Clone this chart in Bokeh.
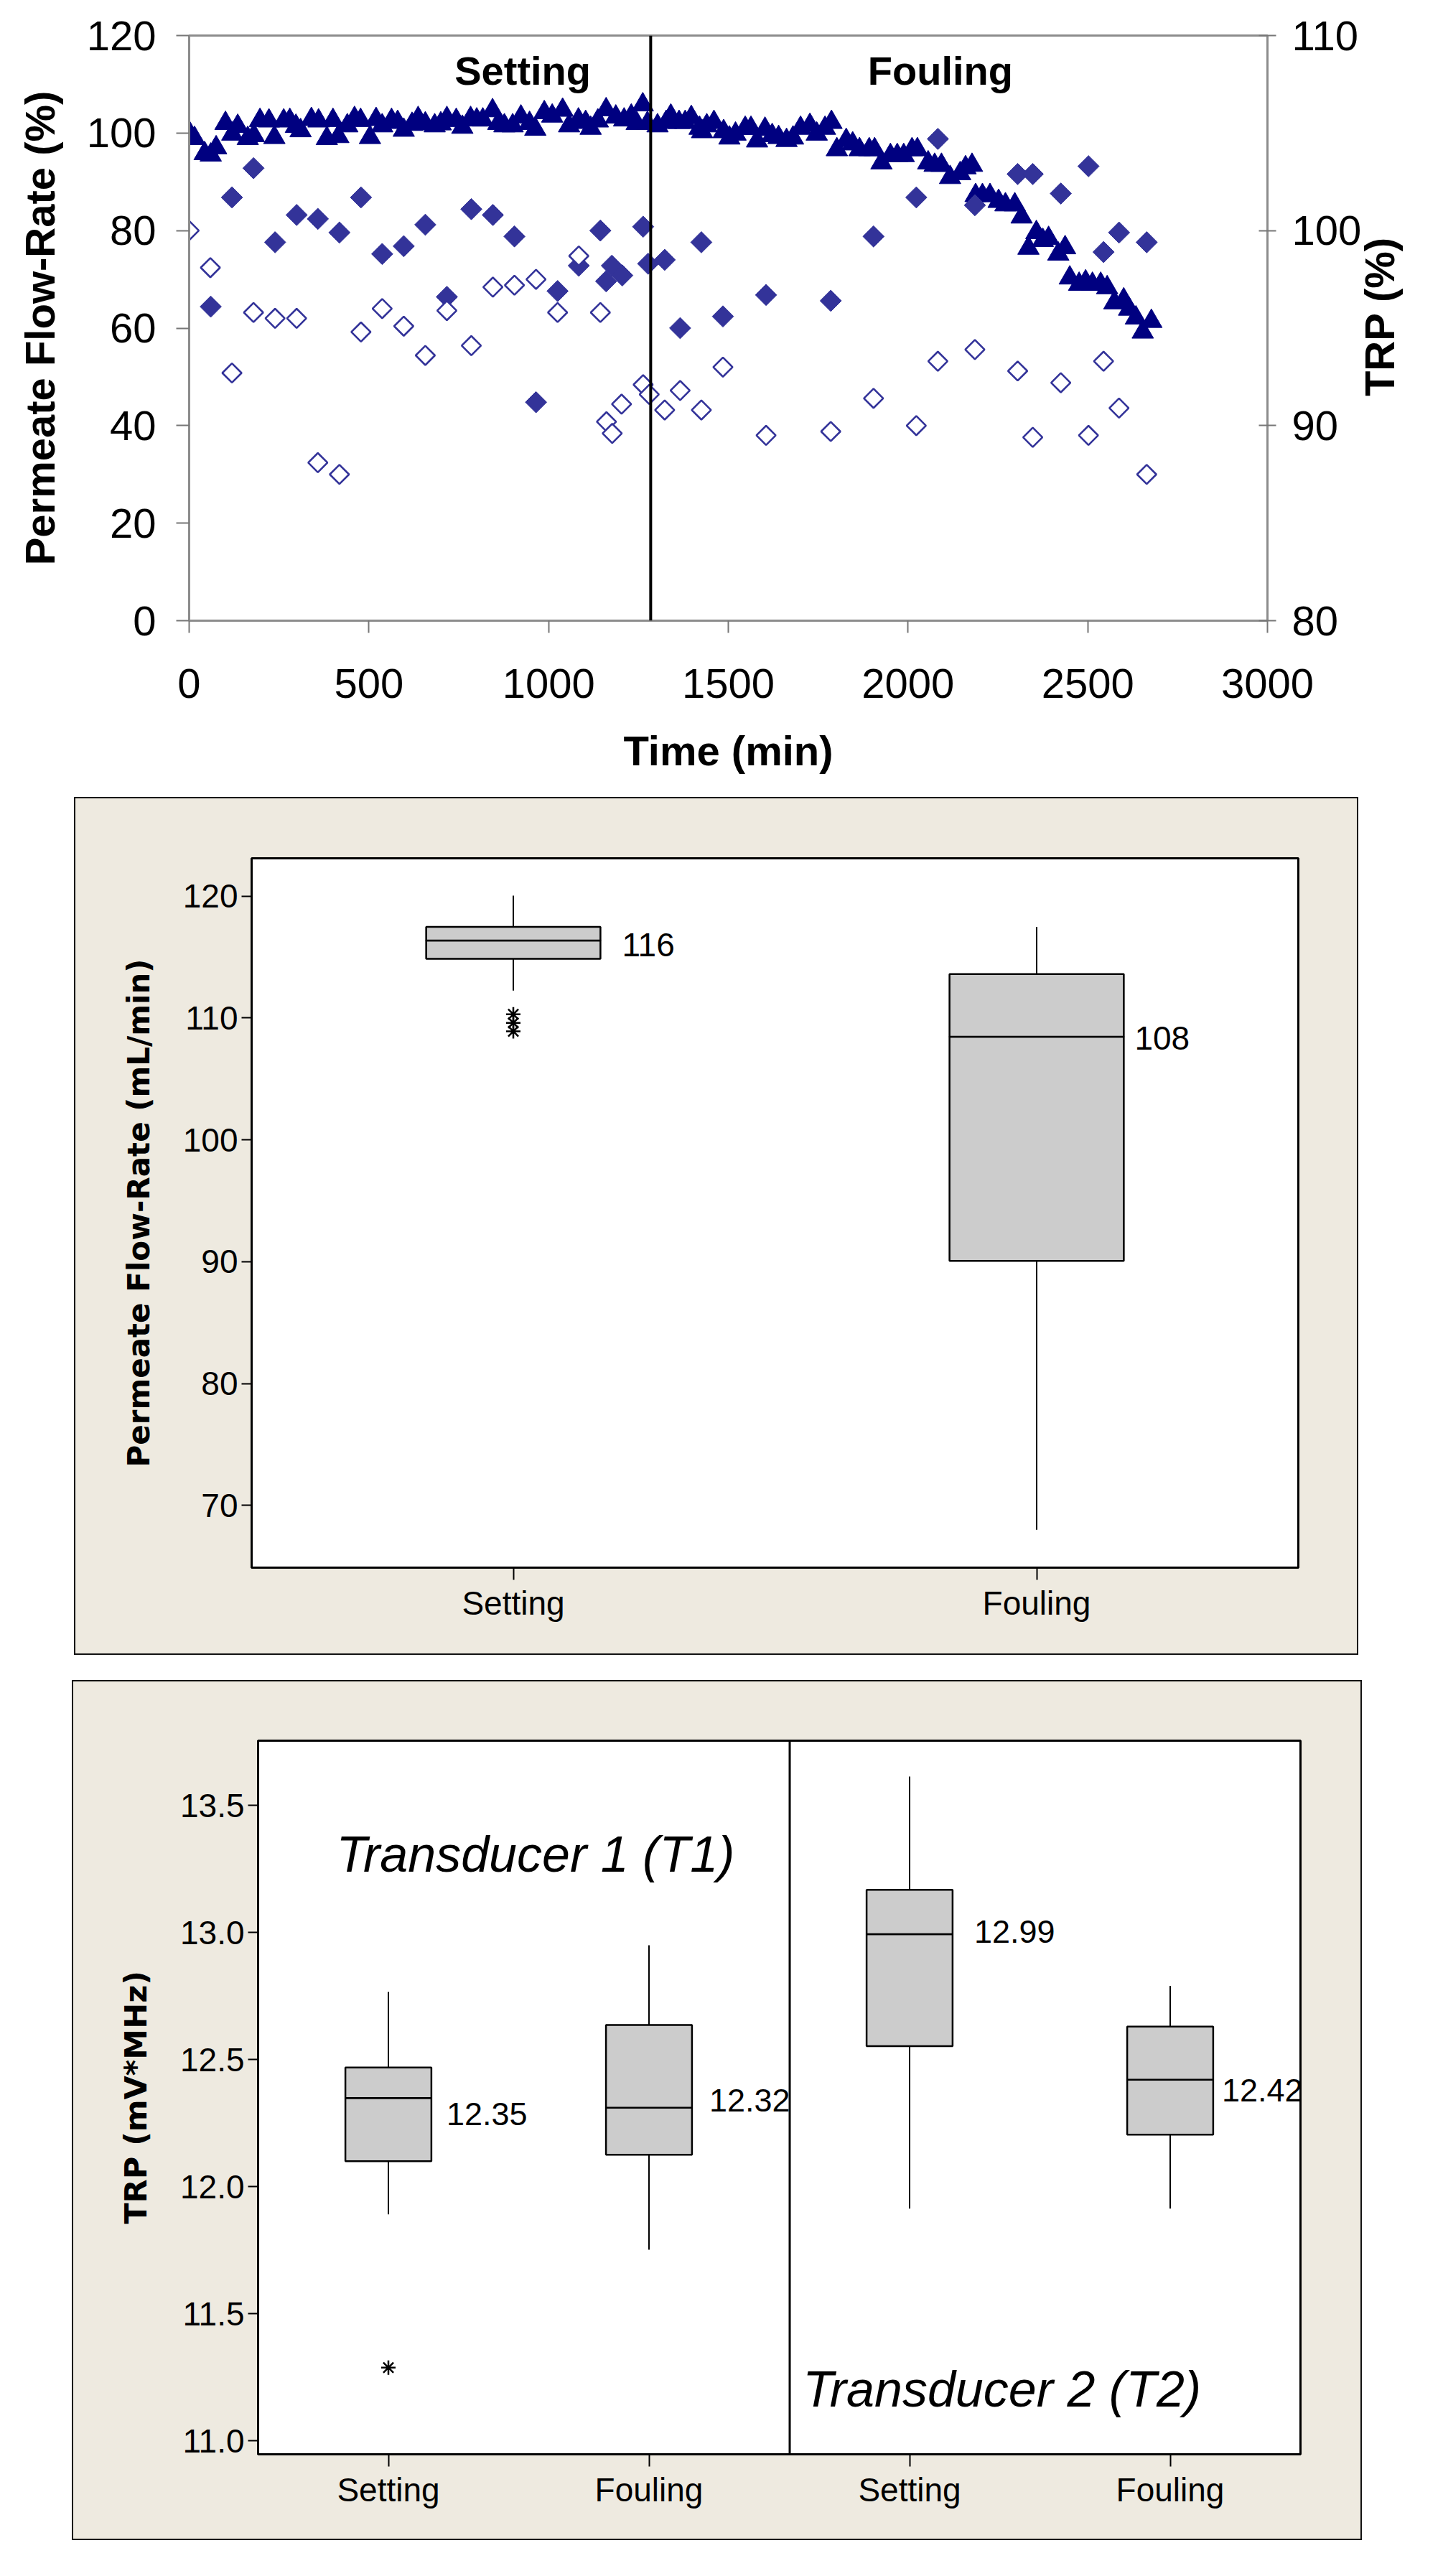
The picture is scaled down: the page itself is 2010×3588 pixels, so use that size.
import math
from bokeh.plotting import figure
from bokeh.models import Range1d, LinearAxis, FixedTicker, Span, FactorRange, NumeralTickFormatter
from bokeh.core.properties import value
from bokeh.embed import file_html
from bokeh.resources import INLINE

# ---------------- data: time series (top chart) ----------------
flow_time = [0, 15, 43, 60, 75, 101, 120, 135, 163, 180, 197, 222, 237, 263, 280, 297, 310, 340, 360, 383,
             400, 415, 440, 460, 477, 503, 520, 537, 563, 580, 597, 620, 637, 657, 683, 700, 717, 743, 760, 783,
             800, 817, 844, 860, 877, 900, 923, 947, 963, 988, 1010, 1039, 1057, 1083, 1103, 1117, 1137, 1160,
             1187, 1210, 1230, 1245, 1262, 1275, 1303, 1327, 1340, 1363, 1380, 1397, 1420, 1427, 1440, 1460,
             1487, 1503, 1520, 1547, 1563, 1580, 1602, 1622, 1640, 1662, 1680, 1701, 1727, 1746, 1769, 1787,
             1802, 1828, 1846, 1865, 1892, 1907, 1926, 1951, 1970, 1988, 2011, 2026, 2056, 2074, 2093, 2117,
             2145, 2160, 2178, 2188, 2207, 2228, 2252, 2271, 2297, 2316, 2335, 2357, 2375, 2391, 2418, 2437,
             2450, 2476, 2494, 2513, 2536, 2554, 2574, 2600, 2615, 2634, 2653, 2677]
flow_pct = [100.1, 98.9, 95.8, 95.5, 97.0, 102.0, 99.8, 101.4, 98.9, 99.5, 102.6, 102.5, 99.1, 102.5, 102.6,
            101.4, 100.5, 102.8, 102.5, 98.9, 102.6, 99.3, 101.5, 103.0, 102.6, 99.1, 102.8, 101.5, 102.6,
            102.2, 100.6, 101.8, 103.0, 101.9, 101.5, 101.9, 103.0, 102.6, 101.2, 103.0, 102.7, 102.7, 104.6,
            102.0, 101.5, 101.5, 103.3, 102.0, 100.8, 104.2, 103.5, 104.7, 101.5, 102.7, 102.2, 101.0, 102.5,
            104.8, 103.3, 102.7, 103.5, 102.0, 105.8, 102.0, 101.5, 102.2, 103.5, 102.2, 102.2, 103.2, 101.0,
            100.3, 101.5, 102.2, 100.3, 99.0, 99.8, 101.0, 101.0, 98.4, 100.8, 99.5, 99.1, 98.5, 99.0, 101.0,
            101.6, 99.8, 101.0, 102.2, 96.6, 98.5, 97.8, 96.6, 96.6, 96.6, 93.9, 95.4, 95.4, 95.4, 96.6, 96.6,
            93.9, 93.4, 93.4, 90.9, 91.7, 92.9, 93.4, 87.2, 87.2, 87.2, 86.0, 85.3, 85.3, 82.8, 76.4, 79.6,
            78.0, 78.4, 75.2, 76.5, 70.3, 69.0, 69.5, 69.0, 69.0, 68.3, 65.2, 65.8, 63.9, 62.1, 59.2, 61.4]

t1_time = [60, 119, 179, 239, 299, 358, 418, 478, 537, 597, 657, 717, 785, 845, 905, 965, 1025, 1084, 1144,
           1160, 1176, 1205, 1263, 1277, 1323, 1366, 1425, 1485, 1605, 1785, 1904, 2023, 2083, 2186, 2305,
           2347, 2425, 2502, 2544, 2587, 2664]
t1_trp = [96.1, 101.7, 103.2, 99.4, 100.8, 100.6, 99.9, 101.7, 98.8, 99.2, 100.3, 96.6, 101.1, 100.8, 99.7,
          91.2, 96.9, 98.2, 100.0, 97.4, 98.2, 97.7, 100.2, 98.3, 98.5, 95.0, 99.4, 95.6, 96.7, 96.4, 99.7,
          101.7, 104.7, 101.3, 102.9, 102.9, 101.9, 103.3, 98.9, 99.9, 99.4]

t2_time = [0, 59, 119, 179, 239, 299, 358, 418, 478, 537, 597, 657, 717, 785, 845, 905, 965, 1025, 1084, 1144,
           1161, 1177, 1203, 1263, 1280, 1323, 1366, 1425, 1485, 1605, 1785, 1904, 2023, 2083, 2186, 2305,
           2347, 2425, 2502, 2544, 2587, 2664]
t2_trp = [100.0, 98.1, 92.7, 95.8, 95.5, 95.5, 88.1, 87.5, 94.8, 96.0, 95.1, 93.6, 95.9, 94.1, 97.1, 97.2,
          97.5, 95.8, 98.7, 95.8, 90.2, 89.6, 91.1, 92.1, 91.6, 90.8, 91.8, 90.8, 93.0, 89.5, 89.7, 91.4, 90.0,
          93.3, 93.9, 92.8, 89.4, 92.2, 89.5, 93.3, 90.9, 87.5]

phase_labels = ["Setting", "Fouling"]
phase_label_time = [928, 2090]
phase_label_level = [112.8, 112.8]
phase_split_time = 1284

time_ticks = [0, 500, 1000, 1500, 2000, 2500, 3000]
flow_ticks = [0, 20, 40, 60, 80, 100, 120]
trp_pct_ticks = [80, 90, 100, 110]
trp_title_start = 91.5  # where the bottom-to-top right-axis title begins

# ---------------- data: flow-rate box plot ----------------
flow_cats = ["Setting", "Fouling"]
flow_q1 = [114.86, 90.07]
flow_med = [116.35, 108.46]
flow_q3 = [117.47, 113.60]
flow_lo = [112.24, 68.0]
flow_hi = [120.04, 117.47]
flow_med_text = ["116", "108"]
flow_out_cat = ["Setting", "Setting", "Setting"]
flow_out_val = [110.3, 109.6, 108.9]
flow_box_ticks = [70, 80, 90, 100, 110, 120]

# ---------------- data: TRP box plot ----------------
trp_cats = ["Setting", "Fouling", "Setting", "Fouling"]
trp_q1 = [12.100, 12.126, 12.553, 12.205]
trp_med = [12.349, 12.311, 12.994, 12.421]
trp_q3 = [12.469, 12.636, 13.168, 12.630]
trp_lo = [11.891, 11.752, 11.914, 11.914]
trp_hi = [12.766, 12.950, 13.614, 12.790]
trp_med_text = ["12.35", "12.32", "12.99", "12.42"]
trp_out_idx = [0]
trp_out_val = [11.288]
trp_box_ticks = [11.0, 11.5, 12.0, 12.5, 13.0, 13.5]
transducer_text = ["Transducer 1 (T1)", "Transducer 2 (T2)"]

# ---------------- styles ----------------
FONT = "Liberation Sans"
MT_TITLE_FONT = "DejaVu Sans"
BEIGE = "#EEEAE0"
NAVY = "#000080"
BLUE = "#333399"
GRAY = "#8c8c8c"
PANEL_CSS = (":host { position: relative; } "
             ":host::after { content: ''; position: absolute; left: 0; top: 0; right: 0; bottom: 0; "
             "border: 2px solid #111111; box-sizing: border-box; pointer-events: none; z-index: 50; }")


def style_axis(ax, label_size, title_size, font, title_font, tick_out, tick_in, label_standoff,
               title_standoff, line_color, line_width, tick_color):
    ax.axis_line_color = line_color
    ax.axis_line_width = line_width
    ax.major_tick_line_color = tick_color
    ax.major_tick_line_width = 2
    ax.major_tick_out = tick_out
    ax.major_tick_in = tick_in
    ax.minor_tick_line_color = None
    ax.major_label_text_font = font
    ax.major_label_text_font_size = label_size
    ax.major_label_text_color = "black"
    ax.major_label_standoff = label_standoff
    ax.axis_label_text_font = title_font
    ax.axis_label_text_font_size = title_size
    ax.axis_label_text_font_style = "bold"
    ax.axis_label_text_color = "black"
    ax.axis_label_standoff = title_standoff


# ================= top chart =================
p1 = figure(width=2010, height=1100, x_range=Range1d(0, 3000), y_range=Range1d(0, 120),
            output_backend="svg", toolbar_location=None,
            min_border_left=263, min_border_right=245, min_border_top=49, min_border_bottom=236)
p1.extra_y_ranges = {"trp": Range1d(80, 110)}
p1.grid.visible = False
p1.outline_line_color = GRAY
p1.outline_line_width = 3
p1.background_fill_color = "white"
p1.border_fill_color = "white"

xa = p1.xaxis[0]
xa.ticker = FixedTicker(ticks=time_ticks)
xa.axis_label = "Time (min)"
style_axis(xa, "58px", "58px", FONT, FONT, 17, 0, 50, 38, GRAY, 3, "#777777")

ya = p1.yaxis[0]
ya.ticker = FixedTicker(ticks=flow_ticks)
ya.axis_label = "Permeate Flow-Rate (%)"
style_axis(ya, "58px", "58px", FONT, FONT, 18, 0, 28, 30, GRAY, 3, "#777777")

ra = LinearAxis(y_range_name="trp", ticker=FixedTicker(ticks=trp_pct_ticks))
style_axis(ra, "58px", "58px", FONT, FONT, 12, 12, 22, 10, GRAY, 2, "#777777")
p1.add_layout(ra, "right")

# right-axis title drawn as a rotated label of an outer axis, so that it reads bottom-to-top
rt = LinearAxis(y_range_name="trp", ticker=FixedTicker(ticks=[trp_title_start]),
                major_label_overrides={trp_title_start: "TRP (%)"})
style_axis(rt, "58px", "58px", FONT, FONT, 0, 0, 22, 0, None, 1, None)
rt.major_label_orientation = math.pi / 2
rt.major_label_text_font_style = "bold"
p1.add_layout(rt, "right")

p1.scatter(flow_time, flow_pct, marker="triangle", size=30, fill_color=NAVY, line_color=NAVY, line_width=1)
p1.scatter(t1_time, t1_trp, y_range_name="trp", marker="square", angle=math.pi / 4, size=21,
           fill_color=BLUE, line_color=BLUE, line_width=1)
p1.scatter(t2_time, t2_trp, y_range_name="trp", marker="square", angle=math.pi / 4, size=19,
           fill_color="white", line_color=BLUE, line_width=2.6)
p1.add_layout(Span(location=phase_split_time, dimension="height", line_color="black", line_width=4))
p1.text(x=phase_label_time, y=phase_label_level, text=phase_labels, text_font=value(FONT),
        text_font_style="bold", text_font_size="56px", text_align="center", text_baseline="alphabetic",
        text_color="black")

# ================= middle chart: flow-rate box plot =================
W2, H2 = 1789, 1195
p2 = figure(width=W2, height=H2, x_range=FactorRange(factors=flow_cats), y_range=Range1d(64.9, 123.1),
            output_backend="svg", toolbar_location=None,
            min_border_left=247, min_border_right=84, min_border_top=85, min_border_bottom=122,
            margin=(10, 0, 0, 103))
p2.grid.visible = False
p2.background_fill_color = "white"
p2.border_fill_color = BEIGE
p2.outline_line_color = "black"
p2.outline_line_width = 3
p2.stylesheets = [PANEL_CSS]

style_axis(p2.xaxis[0], "46px", "42px", FONT, MT_TITLE_FONT, 17, 0, 6, 10, "black", 3, "black")
style_axis(p2.yaxis[0], "46px", "42px", FONT, MT_TITLE_FONT, 14, 0, 5, 34, "black", 3, "black")
p2.yaxis[0].ticker = FixedTicker(ticks=flow_box_ticks)
p2.yaxis[0].axis_label = "Permeate Flow-Rate (mL/min)"

BOX_W2 = 0.333
p2.segment(x0=flow_cats, y0=flow_q3, x1=flow_cats, y1=flow_hi, line_color="black", line_width=2)
p2.segment(x0=flow_cats, y0=flow_lo, x1=flow_cats, y1=flow_q1, line_color="black", line_width=2)
p2.vbar(x=flow_cats, width=BOX_W2, bottom=flow_q1, top=flow_med, fill_color="#CCCCCC",
        line_color="black", line_width=2.5)
p2.vbar(x=flow_cats, width=BOX_W2, bottom=flow_med, top=flow_q3, fill_color="#CCCCCC",
        line_color="black", line_width=2.5)
p2.scatter(x=flow_out_cat, y=flow_out_val, marker="asterisk", size=20, line_color="black", line_width=2.5)
half_box_px2 = BOX_W2 / 2 * 1458 / 2
p2.text(x=flow_cats, y=flow_med, text=flow_med_text, x_offset=[half_box_px2 + 30, half_box_px2 + 15],
        y_offset=[6, 2], text_font=value(FONT), text_font_size="46px", text_align="left",
        text_baseline="middle", text_color="black")

# ================= bottom chart: TRP box plot =================
W3, H3 = 1797, 1198
trp_x = [i + 0.5 for i in range(len(trp_cats))]
p3 = figure(width=W3, height=H3, x_range=Range1d(0, len(trp_cats)), y_range=Range1d(10.947, 13.755),
            output_backend="svg", toolbar_location=None,
            min_border_left=259, min_border_right=86, min_border_top=84, min_border_bottom=120,
            margin=(35, 0, 0, 100))
p3.grid.visible = False
p3.background_fill_color = "white"
p3.border_fill_color = BEIGE
p3.outline_line_color = "black"
p3.outline_line_width = 3
p3.stylesheets = [PANEL_CSS]

style_axis(p3.xaxis[0], "46px", "42px", FONT, MT_TITLE_FONT, 17, 0, 6, 10, "black", 3, "black")
p3.xaxis[0].ticker = FixedTicker(ticks=trp_x)
p3.xaxis[0].major_label_overrides = {x: c for x, c in zip(trp_x, trp_cats)}
style_axis(p3.yaxis[0], "46px", "43px", FONT, MT_TITLE_FONT, 14, 0, 5, 34, "black", 3, "black")
p3.yaxis[0].ticker = FixedTicker(ticks=trp_box_ticks)
p3.yaxis[0].formatter = NumeralTickFormatter(format="0.0")
p3.yaxis[0].axis_label = "TRP (mV*MHz)"

BOX_W3 = 0.33
p3.segment(x0=trp_x, y0=trp_q3, x1=trp_x, y1=trp_hi, line_color="black", line_width=2)
p3.segment(x0=trp_x, y0=trp_lo, x1=trp_x, y1=trp_q1, line_color="black", line_width=2)
p3.vbar(x=trp_x, width=BOX_W3, bottom=trp_q1, top=trp_med, fill_color="#CCCCCC",
        line_color="black", line_width=2.5)
p3.vbar(x=trp_x, width=BOX_W3, bottom=trp_med, top=trp_q3, fill_color="#CCCCCC",
        line_color="black", line_width=2.5)
p3.scatter(x=[trp_x[i] for i in trp_out_idx], y=trp_out_val, marker="asterisk", size=20,
           line_color="black", line_width=2.5)
p3.text(x=[x + BOX_W3 / 2 for x in trp_x], y=trp_med, text=trp_med_text, x_offset=[21, 24, 30, 12],
        y_offset=[22, -10, -3, 15], text_font=value(FONT), text_font_size="45px", text_align="left",
        text_baseline="middle", text_color="black")
p3.add_layout(Span(location=2.04, dimension="height", line_color="black", line_width=3))
p3.text(x=[0.30, 2.09], y=[13.308, 11.202], text=transducer_text, text_font=value(FONT),
        text_font_style="italic", text_font_size="70px", text_align="left", text_baseline="alphabetic",
        text_color="black")

open("out.html", "w").write(file_html([p1, p2, p3], INLINE, "Permeate flow-rate and TRP"))
